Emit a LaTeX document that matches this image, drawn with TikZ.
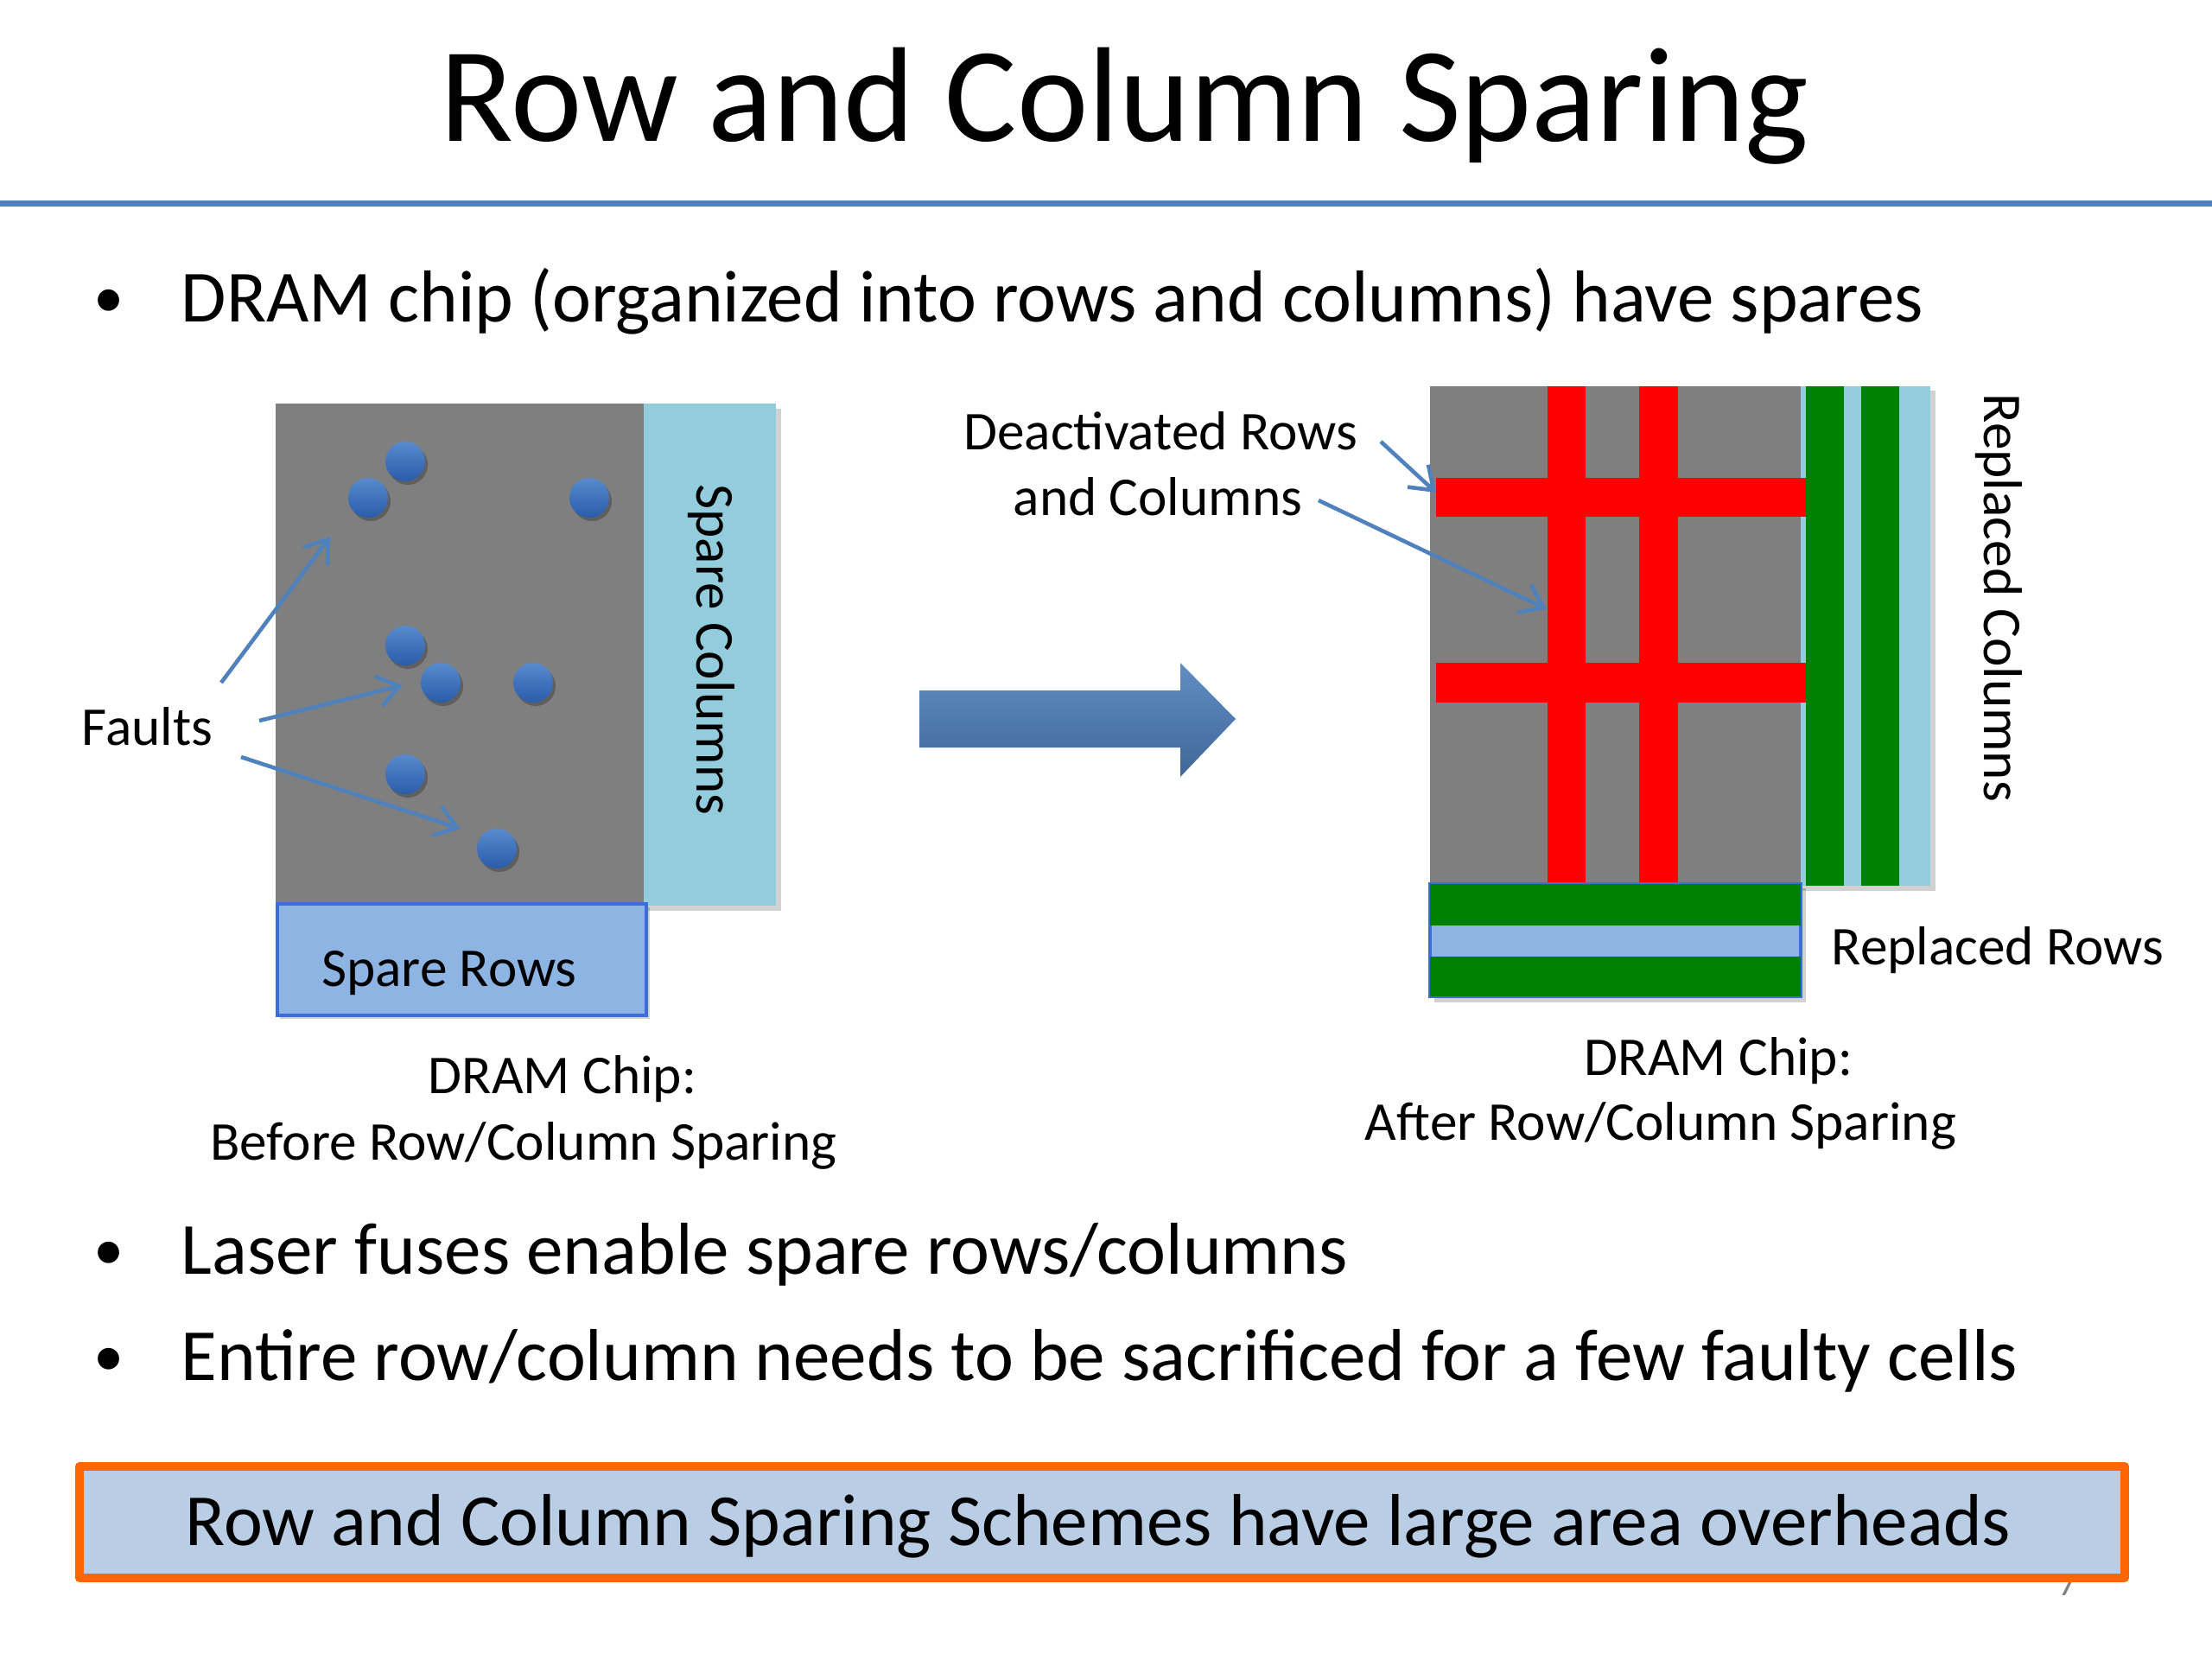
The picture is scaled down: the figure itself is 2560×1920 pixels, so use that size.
\documentclass[tikz,border=0pt]{standalone}
\usepackage{fontspec}
\setmainfont{Carlito}
\usetikzlibrary{arrows.meta}
\definecolor{chipgray}{RGB}{127,127,127}
\definecolor{sparecol}{RGB}{147,205,221}
\definecolor{sparerow}{RGB}{142,180,227}
\definecolor{rowedge}{RGB}{60,110,215}
\definecolor{acc}{RGB}{79,129,189}
\definecolor{dotc}{RGB}{58,117,196}
\definecolor{dotd}{RGB}{42,92,170}
\definecolor{repgreen}{RGB}{0,128,0}
\definecolor{boxfill}{RGB}{185,205,229}
\definecolor{boxedge}{RGB}{255,102,0}
\tikzset{
  txt/.style={inner sep=0pt, font=\fontsize{18}{21}\selectfont},
  bul/.style={inner sep=0pt, font=\fontsize{24.2}{29}\selectfont},
  bulmark/.style={inner sep=0pt, font=\fontsize{20}{24}\selectfont},
  pointer/.style={draw=acc, line width=1.3pt, -{Straight Barb[length=7pt,width=10pt,line width=1.3pt]}},
  fault/.style={circle, minimum size=46*0.2845pt, inner sep=0pt, top color=dotc!85!white, bottom color=dotd, draw=none},
  shadowc/.style={circle, minimum size=46*0.2845pt, inner sep=0pt, fill=black, opacity=0.25},
}
\begin{document}
\begin{tikzpicture}[x=0.01cm,y=-0.01cm]
\useasboundingbox (0,0) rectangle (2560,1920);
\fill[white] (0,0) rectangle (2560,1920);
% title
\node[anchor=base, inner sep=0pt, font=\fontsize{44.4}{52}\selectfont] (title) at (1302,163) {Row and Column Sparing};
\fill[acc] (0,232) rectangle (2560,239);
% bullet 1
\node[bulmark, anchor=base] (b1) at (126,367) {•};
\node[bul, anchor=base west] (t1) at (209,372) {DRAM chip (organized into rows and columns) have spares};
% ---------- left chip ----------
\fill[black, opacity=0.18] (324,473) rectangle (904,1054);
\fill[black, opacity=0.18] (324,1050) rectangle (752,1179);
\fill[chipgray] (319,467) rectangle (745,1044);
\fill[sparecol] (745,467) rectangle (898,1048);
\node[draw=rowedge, fill=sparerow, line width=1pt, minimum width=427*0.01cm, minimum height=129*0.01cm, inner sep=0pt, anchor=north west] (srows) at (319,1044) {};
\node[txt, anchor=base] (srlabel) at (520,1141) {Spare Rows};
\node[txt, anchor=center, rotate=-90] (sclabel) at (823,752) {Spare Columns};
% faults
\foreach \n/\x/\y in {f1/469/534, f2/426/576, f3/682/576, f4/469/747, f5/510/790, f6/617/790, f7/469/896, f8/575/982}{
  \node[shadowc] at (\x+3,\y+4) {};
  \node[fault] (\n) at (\x,\y) {};
}
\node[txt, anchor=base west] (faults) at (94,862) {Faults};
\coordinate (fa1s) at (256,790);
\coordinate (fa1e) at (382,621);
\coordinate (fa2s) at (300,834);
\coordinate (fa2e) at (466,793);
\coordinate (fa3s) at (279,876);
\coordinate (fa3e) at (533,959);
\draw[pointer] (fa1s) -- (fa1e);
\draw[pointer] (fa2s) -- (fa2e);
\draw[pointer] (fa3s) -- (fa3e);
\node[txt, anchor=base] (cap1a) at (651,1265) {DRAM Chip:};
\node[txt, anchor=base] (cap1b) at (606,1342) {Before Row/Column Sparing};
% ---------- big arrow ----------
\shade[top color=acc!90!white, bottom color=acc!80!black] (1064,799) -- (1366,799) -- (1366,767) -- (1430,832) -- (1366,899) -- (1366,865) -- (1064,865) -- cycle;
% ---------- right chip ----------
\fill[black, opacity=0.18] (1660,452) rectangle (2240,1031);
\fill[black, opacity=0.18] (1660,1028) rectangle (2090,1160);
\fill[chipgray] (1655,447) rectangle (2084,1023);
\fill[sparecol] (2084,447) rectangle (2234,1025);
\fill[repgreen] (2090,447) rectangle (2134,1025);
\fill[repgreen] (2154,447) rectangle (2198,1025);
\fill[red] (1791,447) rectangle (1835,1023);
\fill[red] (1897,447) rectangle (1942,1023);
\fill[red] (1662,553) rectangle (2090,598);
\fill[red] (1662,767) rectangle (2090,813);
\draw[rowedge, line width=1pt, fill=sparerow] (1655,1023) rectangle (2084,1153);
\fill[repgreen] (1655,1023) rectangle (2084,1071);
\fill[repgreen] (1655,1107) rectangle (2084,1153);
\node[txt, anchor=center, rotate=-90] (rclabel) at (2313,692) {Replaced Columns};
\node[txt, anchor=base west] (rrlabel) at (2119,1116) {Replaced Rows};
\node[txt, anchor=base] (deact1) at (1343,520) {Deactivated Rows};
\node[txt, anchor=base] (deact2) at (1340,596) {and Columns};
\coordinate (da1s) at (1598,511);
\coordinate (da1e) at (1662,570);
\coordinate (da2s) at (1526,579);
\coordinate (da2e) at (1790,705);
\draw[pointer] (da1s) -- (da1e);
\draw[pointer] (da2s) -- (da2e);
\node[txt, anchor=base] (cap2a) at (1989,1244) {DRAM Chip:};
\node[txt, anchor=base] (cap2b) at (1922,1319) {After Row/Column Sparing};
% bullets 2, 3
\node[bulmark, anchor=base] (b2) at (126,1469) {•};
\node[bul, anchor=base west] (t2) at (209,1474) {Laser fuses enable spare rows/columns};
\node[bulmark, anchor=base] (b3) at (126,1592) {•};
\node[bul, anchor=base west] (t3) at (209,1597) {Entire row/column needs to be sacrificed for a few faulty cells};
% page number
\node[inner sep=0pt, anchor=base, text=gray, font=\fontsize{12}{14}\selectfont] (pnum) at (2393,1846) {7};
% bottom box
\node[draw=boxedge, fill=boxfill, line width=2.85pt, line join=round, minimum width=2367*0.01cm, minimum height=129*0.01cm, inner sep=0pt, anchor=north west] (summary) at (87,1692) {};
\node[bul, anchor=base] (sumtext) at (1271,1788) {Row and Column Sparing Schemes have large area overheads};
\end{tikzpicture}
\end{document}
